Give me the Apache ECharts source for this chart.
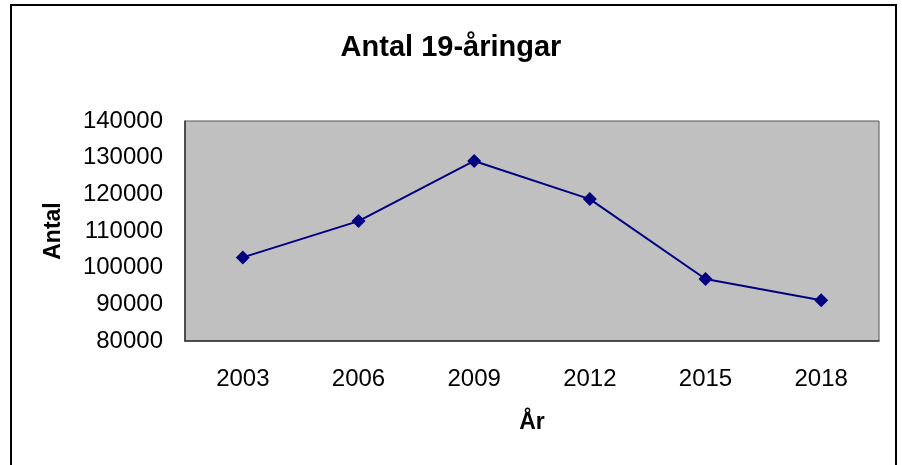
<!DOCTYPE html>
<html>
<head>
<meta charset="utf-8">
<script src="https://cdn.jsdelivr.net/npm/echarts@6/dist/echarts.min.js"></script>
<style>
    html, body { margin: 0; padding: 0; background: #fff; }
    #chart { width: 902px; height: 465px; }
</style>
</head>
<body>
<div id="chart"></div>
<script>
// years on the x axis
var years = ['2003', '2006', '2009', '2012', '2015', '2018'];
// number of 19-year-olds
var antal = [102800, 112700, 129100, 118700, 96900, 91100];

var font = 'Liberation Sans, Arial, sans-serif';
var chart = echarts.init(document.getElementById('chart'));

var option = {
    backgroundColor: '#fff',
    animation: false,
    title: {
        text: 'Antal 19-åringar',
        left: 'center',
        top: 28,
        textStyle: { fontFamily: font, fontSize: 29, fontWeight: 'bold', color: '#000' }
    },
    graphic: [{
        // outer frame of the chart
        type: 'rect',
        shape: { x: 11, y: 5, width: 885, height: 470 },
        style: { fill: 'none', stroke: '#000', lineWidth: 2 },
        silent: true
    }],
    grid: {
        left: 185,
        top: 121,
        right: 23,
        bottom: 124,
        show: true,
        backgroundColor: '#c0c0c0',
        borderColor: '#555',
        borderWidth: 1
    },
    xAxis: {
        type: 'category',
        data: years,
        boundaryGap: true,
        name: 'År',
        nameLocation: 'middle',
        nameGap: 70,
        nameTextStyle: { fontFamily: font, fontSize: 23, fontWeight: 'bold', color: '#000' },
        axisLine: { show: true, lineStyle: { color: '#333', width: 1.5 } },
        axisTick: { show: false },
        axisLabel: { fontFamily: font, fontSize: 24, color: '#000', margin: 26 },
        splitLine: { show: false }
    },
    yAxis: {
        type: 'value',
        min: 80000,
        max: 140000,
        interval: 10000,
        name: 'Antal',
        nameLocation: 'middle',
        nameRotate: 90,
        nameGap: 120,
        nameTextStyle: { fontFamily: font, fontSize: 23, fontWeight: 'bold', color: '#000' },
        axisLine: { show: true, lineStyle: { color: '#333', width: 1.5 } },
        axisTick: { show: false },
        axisLabel: {
            fontFamily: font, fontSize: 24, color: '#000', margin: 22,
            formatter: function (v) { return String(v); }
        },
        splitLine: { show: false }
    },
    series: [{
        type: 'line',
        data: antal,
        symbol: 'diamond',
        symbolSize: 14,
        lineStyle: { color: '#000080', width: 2 },
        itemStyle: { color: '#000080' }
    }]
};
chart.setOption(option);
</script>
</body>
</html>
